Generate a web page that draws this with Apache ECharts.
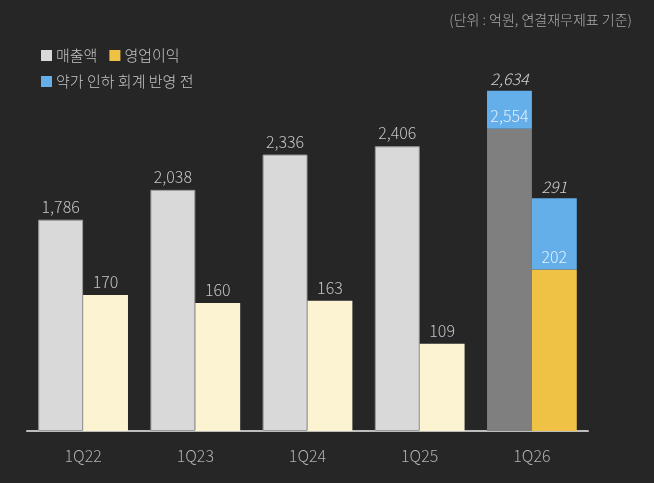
<!DOCTYPE html>
<html>
<head>
<meta charset="utf-8">
<script src="https://cdn.jsdelivr.net/npm/echarts@6/dist/echarts.min.js"></script>
<style>
html,body{margin:0;padding:0;background:#262626;}
#c{width:654px;height:483px;}
</style>
</head>
<body>
<div id="c"></div>
<script>
const categories = ['1Q22', '1Q23', '1Q24', '1Q25', '1Q26'];
const revenue = [1786, 2038, 2336, 2406, 2554];
const operatingProfit = [170, 160, 163, 109, 202];
// values before the drug-price-cut accounting (1Q26 only)
const revenueBeforeCut = [null, null, null, null, 2634];
const profitBeforeCut = [null, null, null, null, 291];

const unitNote = '(단위 : 억원, 연결재무제표 기준)';
const nameRevenue = '매출액';
const nameProfit = '영업이익';
const nameBefore = '약가 인하 회계 반영 전';

const FONT = '"Noto Sans CJK KR", "Noto Sans", sans-serif';
const W = 300;
const GREY = '#d9d9d9', GREY_DARK = '#7f7f7f';
const PALE = '#fcf3d2', YELLOW = '#efc246', BLUE = '#64aee9';
const LABEL = '#c4c4c4', LABEL_IN = '#e3f1ff';
const last = categories.length - 1;
const fmt = v => v.toLocaleString('en-US');

const revData = revenue.map((v, i) => i === last
  ? {value: v, itemStyle: {color: GREY_DARK, borderWidth: 0}, label: {color: LABEL_IN}}
  : v);
const opData = operatingProfit.map((v, i) => i === last
  ? {value: v, itemStyle: {color: YELLOW}, label: {color: LABEL_IN}}
  : v);
const revCap = revenueBeforeCut.map((v, i) => v == null ? '-' : v - revenue[i]);
const opCap = profitBeforeCut.map((v, i) => v == null ? '-' : v - operatingProfit[i]);

const chart = echarts.init(document.getElementById('c'), null, {renderer: 'canvas'});
chart.setOption({
  backgroundColor: '#262626',
  animation: false,
  textStyle: {fontFamily: FONT},
  title: {
    text: unitNote, right: 17, top: 8,
    textStyle: {fontFamily: FONT, fontSize: 14, fontWeight: W, color: '#ababab'}
  },
  legend: [
    {
      left: 36, top: 43, itemWidth: 11, itemHeight: 11, itemGap: 12,
      icon: 'rect',
      textStyle: {fontFamily: FONT, fontSize: 15, fontWeight: W, color: '#c4c4c4', padding: [0, 0, 0, -1]},
      data: [
        {name: nameRevenue, itemStyle: {color: GREY, borderWidth: 0}},
        {name: nameProfit, itemStyle: {color: YELLOW, borderWidth: 0}}
      ]
    },
    {
      left: 36, top: 69, itemWidth: 11, itemHeight: 11,
      icon: 'rect',
      textStyle: {fontFamily: FONT, fontSize: 15, fontWeight: W, color: '#c4c4c4', padding: [0, 0, 0, -1]},
      data: [{name: nameBefore, itemStyle: {color: BLUE, borderWidth: 0}}]
    }
  ],
  grid: {left: 27, right: 66, top: 76, bottom: 52},
  xAxis: {
    type: 'category', data: categories,
    axisLine: {lineStyle: {color: '#bdbdbd', width: 2}},
    axisTick: {show: false},
    axisLabel: {fontFamily: FONT, fontSize: 16, fontWeight: W, color: '#b0b0b0', margin: 17}
  },
  yAxis: [
    {type: 'value', min: 0, max: 3000, show: false},
    {type: 'value', min: 0, max: 444, show: false}
  ],
  series: [
    {
      name: nameRevenue, type: 'bar', stack: 'rev', yAxisIndex: 0,
      barCategoryGap: '20%', barGap: '0%',
      itemStyle: {color: GREY, borderColor: '#9a9a9a', borderWidth: 1},
      label: {show: true, position: 'top', distance: 5, fontFamily: FONT, fontSize: 16, fontWeight: W, color: LABEL,
              formatter: p => fmt(p.value)},
      data: revData
    },
    {
      name: nameBefore, type: 'bar', stack: 'rev', yAxisIndex: 0,
      barMinHeight: 38,
      itemStyle: {color: BLUE},
      label: {show: true, position: 'top', distance: 4, fontFamily: FONT, fontSize: 16, fontWeight: W, fontStyle: 'italic', color: '#cfcfcf',
              formatter: p => fmt(revenueBeforeCut[p.dataIndex])},
      data: revCap
    },
    {
      name: nameProfit, type: 'bar', stack: 'op', yAxisIndex: 1,
      barCategoryGap: '20%', barGap: '0%',
      itemStyle: {color: PALE},
      label: {show: true, position: 'top', distance: 5, fontFamily: FONT, fontSize: 16, fontWeight: W, color: LABEL,
              formatter: p => fmt(p.value)},
      data: opData
    },
    {
      name: nameBefore, type: 'bar', stack: 'op', yAxisIndex: 1,
      itemStyle: {color: BLUE},
      label: {show: true, position: 'top', distance: 3, fontFamily: FONT, fontSize: 16, fontWeight: W, fontStyle: 'italic', color: '#cfcfcf',
              formatter: p => fmt(profitBeforeCut[p.dataIndex])},
      data: opCap
    }
  ]
});
</script>
</body>
</html>
